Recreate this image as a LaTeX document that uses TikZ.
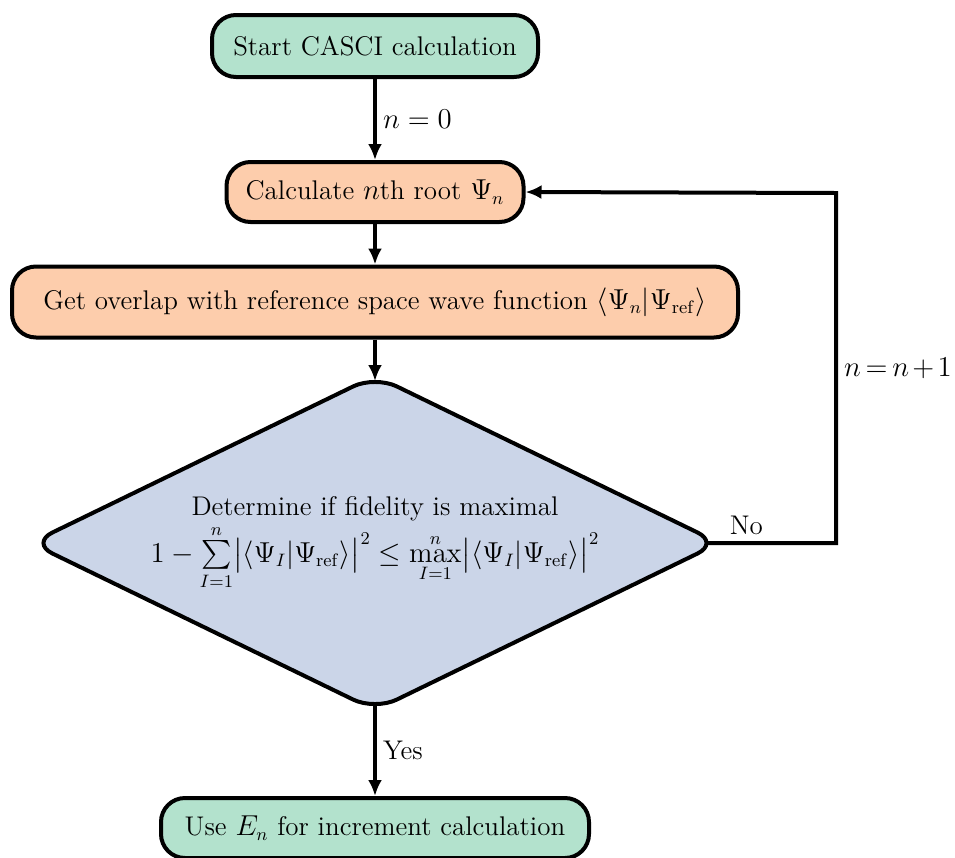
\documentclass[tikz,border=0pt]{standalone}
\usepackage{amsmath}
\usetikzlibrary{shapes.geometric,arrows.meta}
\definecolor{termgreen}{HTML}{B3E2CD}
\definecolor{procorange}{HTML}{FDCDAC}
\definecolor{decblue}{HTML}{CBD5E8}
\begin{document}
\begin{tikzpicture}[x=0.5pt,y=-0.5pt,
  font=\fontsize{13.5}{17}\selectfont,
  box/.style={draw=black, line width=2pt, rounded corners=12pt, inner sep=0pt},
  terminal/.style={box, fill=termgreen},
  process/.style={box, fill=procorange},
  decision/.style={diamond, aspect=2.1, draw=black, line width=2pt, fill=decblue,
    rounded corners=12pt, minimum width=345pt, minimum height=168pt,
    inner sep=0pt, align=center},
  flow/.style={line width=2pt, -{Latex[length=8pt,width=7pt]}},
  lbl/.style={inner sep=3pt}
]
\useasboundingbox (0,0) rectangle (955,858);

% nodes
\node[terminal, minimum width=163pt, minimum height=31pt] (start) at (375,46)
  {Start CASCI calculation};
\node[process, minimum width=148.5pt, minimum height=30pt] (root) at (375,192)
  {Calculate $n$th root $\Psi_n$};
\node[process, minimum width=363pt, minimum height=35.5pt] (overlap) at (375,302)
  {Get overlap with reference space wave function $\langle\Psi_n|\Psi_{\mathrm{ref}}\rangle$};
\node[decision] (dec) at (375,543)
  {Determine if fidelity is maximal\\[1pt]
   $1-\sum\limits_{I=1}^{n}\bigl|\langle\Psi_I|\Psi_{\mathrm{ref}}\rangle\bigr|^2
   \le\max\limits_{I=1}^{n}\bigl|\langle\Psi_I|\Psi_{\mathrm{ref}}\rangle\bigr|^2$};
\node[terminal, minimum width=214pt, minimum height=30pt] (finish) at (375,828)
  {Use $E_n$ for increment calculation};

% loop-back corners
\coordinate (loopA) at (836,543);
\coordinate (loopB) at (836,193);

% connectors (the diamond's rounded tips sit a little inside its anchors)
\draw[flow] (start) -- node[right, lbl] {$n=0$} (root);
\draw[flow] (root) -- (overlap);
\draw[flow] (overlap) -- ([yshift=-4pt]dec.north);
\draw[flow] ([yshift=4pt]dec.south) -- node[right, lbl] {Yes} (finish);
\draw[flow, line join=miter] ([xshift=-7pt]dec.east) -- node[above, pos=0.3, lbl] {No} (loopA)
  -- node[right, lbl] {\thickmuskip=3mu\medmuskip=2mu$n=n+1$} (loopB) -- (root.east);
\end{tikzpicture}
\end{document}
